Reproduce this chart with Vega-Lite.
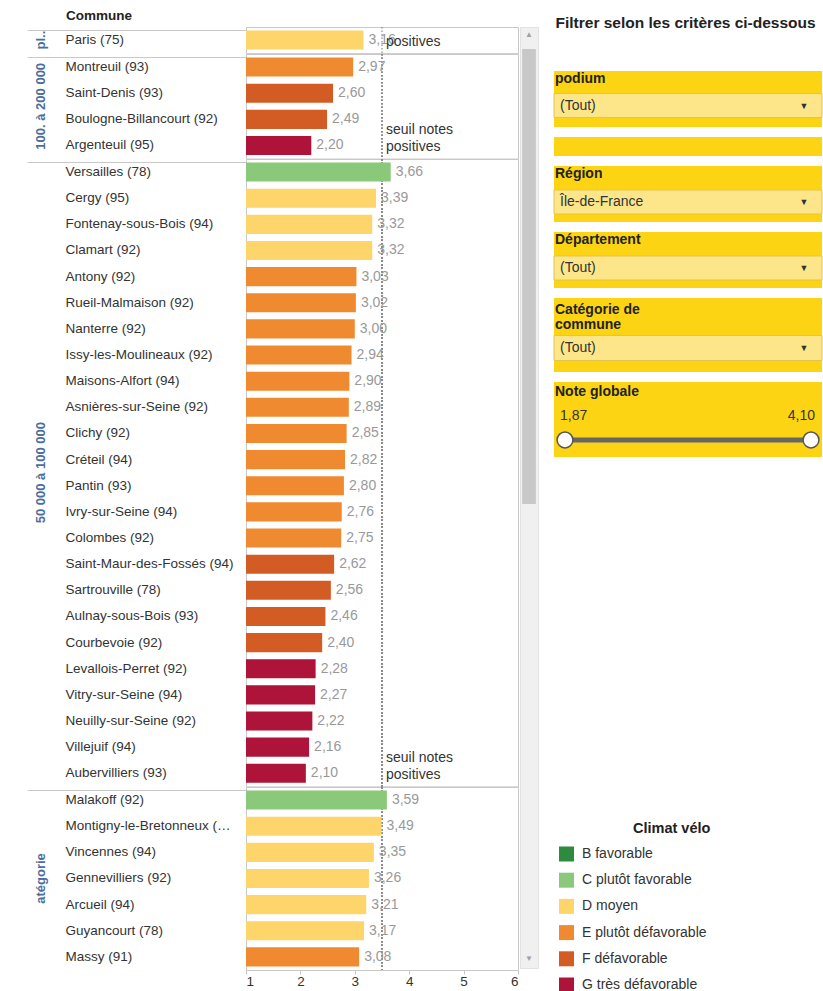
{
  "$schema": "https://vega.github.io/schema/vega-lite/v6.json",
  "padding": {"left": 26, "top": 9, "right": 0, "bottom": 0},
  "background": "white",
  "config": {
    "font": "Liberation Sans",
    "view": {"stroke": "#c8c8c8"},
    "locale": {"number": {"decimal": ",", "thousands": " ", "grouping": [3], "currency": ["", " €"]}}
  },
  "spacing": 14,
  "hconcat": [
    {
      "spacing": 0,
      "hconcat": [
        {
          "title": {"text": "Commune", "anchor": "start", "fontSize": 13.5, "fontWeight": "bold", "color": "#222", "dx": 40, "offset": 3},
          "data": {"values": [
            {"commune": "Paris (75)", "categorie": "plus de 200 000", "note": 3.16, "climat": "D moyen", "fin": true},
            {"commune": "Montreuil (93)", "categorie": "100 000 à 200 000", "note": 2.97, "climat": "E plutôt défavorable"},
            {"commune": "Saint-Denis (93)", "categorie": "100 000 à 200 000", "note": 2.60, "climat": "F défavorable"},
            {"commune": "Boulogne-Billancourt (92)", "categorie": "100 000 à 200 000", "note": 2.49, "climat": "F défavorable"},
            {"commune": "Argenteuil (95)", "categorie": "100 000 à 200 000", "note": 2.20, "climat": "G très défavorable", "fin": true},
            {"commune": "Versailles (78)", "categorie": "50 000 à 100 000", "note": 3.66, "climat": "C plutôt favorable"},
            {"commune": "Cergy (95)", "categorie": "50 000 à 100 000", "note": 3.39, "climat": "D moyen"},
            {"commune": "Fontenay-sous-Bois (94)", "categorie": "50 000 à 100 000", "note": 3.32, "climat": "D moyen"},
            {"commune": "Clamart (92)", "categorie": "50 000 à 100 000", "note": 3.32, "climat": "D moyen"},
            {"commune": "Antony (92)", "categorie": "50 000 à 100 000", "note": 3.03, "climat": "E plutôt défavorable"},
            {"commune": "Rueil-Malmaison (92)", "categorie": "50 000 à 100 000", "note": 3.02, "climat": "E plutôt défavorable"},
            {"commune": "Nanterre (92)", "categorie": "50 000 à 100 000", "note": 3.00, "climat": "E plutôt défavorable"},
            {"commune": "Issy-les-Moulineaux (92)", "categorie": "50 000 à 100 000", "note": 2.94, "climat": "E plutôt défavorable"},
            {"commune": "Maisons-Alfort (94)", "categorie": "50 000 à 100 000", "note": 2.90, "climat": "E plutôt défavorable"},
            {"commune": "Asnières-sur-Seine (92)", "categorie": "50 000 à 100 000", "note": 2.89, "climat": "E plutôt défavorable"},
            {"commune": "Clichy (92)", "categorie": "50 000 à 100 000", "note": 2.85, "climat": "E plutôt défavorable"},
            {"commune": "Créteil (94)", "categorie": "50 000 à 100 000", "note": 2.82, "climat": "E plutôt défavorable"},
            {"commune": "Pantin (93)", "categorie": "50 000 à 100 000", "note": 2.80, "climat": "E plutôt défavorable"},
            {"commune": "Ivry-sur-Seine (94)", "categorie": "50 000 à 100 000", "note": 2.76, "climat": "E plutôt défavorable"},
            {"commune": "Colombes (92)", "categorie": "50 000 à 100 000", "note": 2.75, "climat": "E plutôt défavorable"},
            {"commune": "Saint-Maur-des-Fossés (94)", "categorie": "50 000 à 100 000", "note": 2.62, "climat": "F défavorable"},
            {"commune": "Sartrouville (78)", "categorie": "50 000 à 100 000", "note": 2.56, "climat": "F défavorable"},
            {"commune": "Aulnay-sous-Bois (93)", "categorie": "50 000 à 100 000", "note": 2.46, "climat": "F défavorable"},
            {"commune": "Courbevoie (92)", "categorie": "50 000 à 100 000", "note": 2.40, "climat": "F défavorable"},
            {"commune": "Levallois-Perret (92)", "categorie": "50 000 à 100 000", "note": 2.28, "climat": "G très défavorable"},
            {"commune": "Vitry-sur-Seine (94)", "categorie": "50 000 à 100 000", "note": 2.27, "climat": "G très défavorable"},
            {"commune": "Neuilly-sur-Seine (92)", "categorie": "50 000 à 100 000", "note": 2.22, "climat": "G très défavorable"},
            {"commune": "Villejuif (94)", "categorie": "50 000 à 100 000", "note": 2.16, "climat": "G très défavorable"},
            {"commune": "Aubervilliers (93)", "categorie": "50 000 à 100 000", "note": 2.10, "climat": "G très défavorable", "fin": true},
            {"commune": "Malakoff (92)", "categorie": "20 000 à 50 000", "note": 3.59, "climat": "C plutôt favorable"},
            {"commune": "Montigny-le-Bretonneux (78)", "categorie": "20 000 à 50 000", "note": 3.49, "climat": "D moyen"},
            {"commune": "Vincennes (94)", "categorie": "20 000 à 50 000", "note": 3.35, "climat": "D moyen"},
            {"commune": "Gennevilliers (92)", "categorie": "20 000 à 50 000", "note": 3.26, "climat": "D moyen"},
            {"commune": "Arcueil (94)", "categorie": "20 000 à 50 000", "note": 3.21, "climat": "D moyen"},
            {"commune": "Guyancourt (78)", "categorie": "20 000 à 50 000", "note": 3.17, "climat": "D moyen"},
            {"commune": "Massy (91)", "categorie": "20 000 à 50 000", "note": 3.08, "climat": "E plutôt défavorable"}
          ]},
          "facet": {
            "row": {
              "field": "categorie", "type": "nominal",
              "sort": ["plus de 200 000", "100 000 à 200 000", "50 000 à 100 000", "20 000 à 50 000"],
              "title": null,
              "header": {
                "labelAngle": -90, "labelFontSize": 13, "labelFontWeight": "bold", "labelColor": "#4b6e9e", "labelPadding": 192,
                "labelExpr": "datum.value == 'plus de 200 000' ? 'pl..' : datum.value == '100 000 à 200 000' ? '100. à 200 000' : datum.value == '20 000 à 50 000' ? 'atégorie' : datum.value"
              }
            }
          },
          "spacing": {"row": 0},
          "bounds": "flush",
          "resolve": {"scale": {"y": "independent"}},
          "spec": {
            "width": 272,
            "height": {"step": 26.14},
            "layer": [
              {
                "mark": {"type": "rule", "strokeDash": [1.5, 2], "strokeWidth": 1.2, "color": "#8a8a8a"},
                "encoding": {"x": {"datum": 3.5, "type": "quantitative"}}
              },
              {
                "mark": {"type": "bar"},
                "encoding": {
                  "y": {"field": "commune", "type": "nominal", "sort": null, "scale": {"paddingInner": 0.27, "paddingOuter": 0.135},
                    "axis": {"title": null, "domain": false, "bandPosition": 0, "tickSize": 219, "tickWidth": 1,
                      "tickColor": {"condition": {"test": "datum.index == 0", "value": "#c8c8c8"}, "value": "transparent"},
                      "labelAlign": "left", "labelPadding": -38, "labelFontSize": 13.5, "labelColor": "#333", "labelLimit": 169}},
                  "x": {"field": "note", "type": "quantitative", "scale": {"domain": [1, 6], "nice": false, "zero": false},
                    "axis": {"title": null, "values": [1, 2, 3, 4, 5, 6], "format": "d", "grid": false, "domain": false, "tickSize": 4, "tickColor": "#c8c8c8", "labelFontSize": 13.5, "labelColor": "#333", "labelPadding": 0}},
                  "x2": {"datum": 1},
                  "color": {"field": "climat", "type": "nominal",
                    "scale": {"domain": ["B favorable", "C plutôt favorable", "D moyen", "E plutôt défavorable", "F défavorable", "G très défavorable"],
                      "range": ["#2d8a3e", "#8bc97a", "#fdd56b", "#f08a30", "#d35c25", "#ae1439"]},
                    "legend": {"title": "Climat vélo", "orient": "none", "legendX": 313, "legendY": 795, "symbolType": "square", "symbolSize": 225, "symbolStrokeWidth": 0, "symbolOpacity": 1,
                      "labelFontSize": 14, "labelColor": "#333", "titleFontSize": 14.5, "titleColor": "#222", "titleFontWeight": "bold", "rowPadding": 11.2, "labelOffset": 8, "titleAnchor": "middle", "titleAlign": "left", "titlePadding": 10}}
                }
              },
              {
                "mark": {"type": "text", "align": "left", "baseline": "middle", "dx": 5, "fontSize": 14, "color": "#999"},
                "encoding": {
                  "y": {"field": "commune", "type": "nominal", "sort": null, "scale": {"paddingInner": 0.27, "paddingOuter": 0.135},
                    "axis": {"title": null, "domain": false, "bandPosition": 0, "tickSize": 219, "tickWidth": 1,
                      "tickColor": {"condition": {"test": "datum.index == 0", "value": "#c8c8c8"}, "value": "transparent"},
                      "labelAlign": "left", "labelPadding": -38, "labelFontSize": 13.5, "labelColor": "#333", "labelLimit": 169}},
                  "x": {"field": "note", "type": "quantitative"},
                  "text": {"field": "note", "type": "quantitative", "format": ".2f"}
                }
              },
              {
                "mark": {"type": "text", "align": "left", "baseline": "middle", "dx": 4, "dy": -15.5, "lineHeight": 17.5, "fontSize": 14, "color": "#333", "clip": true},
                "encoding": {
                  "y": {"field": "commune", "type": "nominal", "sort": null, "scale": {"paddingInner": 0.27, "paddingOuter": 0.135},
                    "axis": {"title": null, "domain": false, "bandPosition": 0, "tickSize": 219, "tickWidth": 1,
                      "tickColor": {"condition": {"test": "datum.index == 0", "value": "#c8c8c8"}, "value": "transparent"},
                      "labelAlign": "left", "labelPadding": -38, "labelFontSize": 13.5, "labelColor": "#333", "labelLimit": 169}},
                  "x": {"datum": 3.5, "type": "quantitative"},
                  "text": {"condition": [
                    {"test": "datum.fin && datum.categorie == 'plus de 200 000'", "value": ["", "positives"]},
                    {"test": "datum.fin", "value": ["seuil notes", "positives"]}
                  ], "value": ""}
                }
              }
            ]
          }
        },
        {
          "width": 18, "height": 941,
          "view": {"fill": "#f0f0f0", "stroke": "#e2e2e2"},
          "data": {"values": [{"element": "ascenseur"}]},
          "layer": [
            {"mark": {"type": "bar", "color": "#c8c8c8"},
             "encoding": {"x": {"datum": 0.12, "type": "quantitative", "scale": {"domain": [0, 1]}, "axis": null}, "x2": {"datum": 0.88},
               "y": {"datum": 0.0234, "type": "quantitative", "scale": {"domain": [0, 1], "reverse": true}, "axis": null}, "y2": {"datum": 0.507}}},
            {"mark": {"type": "text", "fontSize": 8, "color": "#a0a0a0", "baseline": "middle"},
             "encoding": {"x": {"datum": 0.5, "type": "quantitative"}, "y": {"datum": 0.008, "type": "quantitative"}, "text": {"value": "▲"}}},
            {"mark": {"type": "text", "fontSize": 8, "color": "#a0a0a0", "baseline": "middle"},
             "encoding": {"x": {"datum": 0.5, "type": "quantitative"}, "y": {"datum": 0.99, "type": "quantitative"}, "text": {"value": "▼"}}}
          ]
        }
      ]
    },
    {
      "title": {"text": "Filtrer selon les critères ci-dessous", "anchor": "start", "fontSize": 15.5, "fontWeight": "bold", "color": "#222", "offset": -4, "dx": 2},
      "spacing": 10,
      "vconcat": [
        {
          "width": 268, "height": 34,
          "view": {"fill": null, "stroke": null},
          "data": {"values": [{"vide": ""}]},
          "mark": {"type": "text"},
          "encoding": {"text": {"field": "vide"}}
        },
        {
          "width": 268, "height": 56,
          "view": {"fill": "#fcd413", "stroke": null},
          "data": {"values": [{"filtre": "podium", "valeur": "(Tout)"}]},
          "layer": [
            {"mark": {"type": "bar", "height": 24, "fill": "#fde68a", "stroke": "#e3c44c", "strokeWidth": 1},
             "encoding": {"x": {"datum": 0, "type": "quantitative", "scale": {"domain": [0, 1]}, "axis": null}, "x2": {"datum": 1},
               "y": {"datum": "liste", "type": "nominal", "scale": {"type": "point", "domain": ["titre", "liste"], "padding": 0.5566, "align": 0.2712}, "axis": null}}},
            {"mark": {"type": "text", "align": "left", "baseline": "middle", "dx": 1, "fontSize": 14, "fontWeight": "bold", "color": "#222"},
             "encoding": {"x": {"datum": 0, "type": "quantitative"}, "y": {"datum": "titre", "type": "nominal"}, "text": {"field": "filtre"}}},
            {"mark": {"type": "text", "align": "left", "baseline": "middle", "dx": 6, "fontSize": 14, "color": "#333"},
             "encoding": {"x": {"datum": 0, "type": "quantitative"}, "y": {"datum": "liste", "type": "nominal"}, "text": {"field": "valeur"}}},
            {"mark": {"type": "text", "align": "center", "baseline": "middle", "dx": -18, "fontSize": 9, "color": "#333"},
             "encoding": {"x": {"datum": 1, "type": "quantitative"}, "y": {"datum": "liste", "type": "nominal"}, "text": {"value": "▼"}}}
          ]
        },
        {
          "width": 268, "height": 19,
          "view": {"fill": "#fcd413", "stroke": null},
          "data": {"values": [{"filtre": ""}]},
          "mark": {"type": "text"},
          "encoding": {"text": {"field": "filtre"}}
        },
        {
          "width": 268, "height": 56,
          "view": {"fill": "#fcd413", "stroke": null},
          "data": {"values": [{"filtre": "Région", "valeur": "Île-de-France"}]},
          "layer": [
            {"mark": {"type": "bar", "height": 24, "fill": "#fde68a", "stroke": "#e3c44c", "strokeWidth": 1},
             "encoding": {"x": {"datum": 0, "type": "quantitative", "scale": {"domain": [0, 1]}, "axis": null}, "x2": {"datum": 1},
               "y": {"datum": "liste", "type": "nominal", "scale": {"type": "point", "domain": ["titre", "liste"], "padding": 0.5, "align": 0.2857}, "axis": null}}},
            {"mark": {"type": "text", "align": "left", "baseline": "middle", "dx": 1, "fontSize": 14, "fontWeight": "bold", "color": "#222"},
             "encoding": {"x": {"datum": 0, "type": "quantitative"}, "y": {"datum": "titre", "type": "nominal"}, "text": {"field": "filtre"}}},
            {"mark": {"type": "text", "align": "left", "baseline": "middle", "dx": 6, "fontSize": 14, "color": "#333"},
             "encoding": {"x": {"datum": 0, "type": "quantitative"}, "y": {"datum": "liste", "type": "nominal"}, "text": {"field": "valeur"}}},
            {"mark": {"type": "text", "align": "center", "baseline": "middle", "dx": -18, "fontSize": 9, "color": "#333"},
             "encoding": {"x": {"datum": 1, "type": "quantitative"}, "y": {"datum": "liste", "type": "nominal"}, "text": {"value": "▼"}}}
          ]
        },
        {
          "width": 268, "height": 56,
          "view": {"fill": "#fcd413", "stroke": null},
          "data": {"values": [{"filtre": "Département", "valeur": "(Tout)"}]},
          "layer": [
            {"mark": {"type": "bar", "height": 24, "fill": "#fde68a", "stroke": "#e3c44c", "strokeWidth": 1},
             "encoding": {"x": {"datum": 0, "type": "quantitative", "scale": {"domain": [0, 1]}, "axis": null}, "x2": {"datum": 1},
               "y": {"datum": "liste", "type": "nominal", "scale": {"type": "point", "domain": ["titre", "liste"], "padding": 0.5, "align": 0.2857}, "axis": null}}},
            {"mark": {"type": "text", "align": "left", "baseline": "middle", "dx": 1, "fontSize": 14, "fontWeight": "bold", "color": "#222"},
             "encoding": {"x": {"datum": 0, "type": "quantitative"}, "y": {"datum": "titre", "type": "nominal"}, "text": {"field": "filtre"}}},
            {"mark": {"type": "text", "align": "left", "baseline": "middle", "dx": 6, "fontSize": 14, "color": "#333"},
             "encoding": {"x": {"datum": 0, "type": "quantitative"}, "y": {"datum": "liste", "type": "nominal"}, "text": {"field": "valeur"}}},
            {"mark": {"type": "text", "align": "center", "baseline": "middle", "dx": -18, "fontSize": 9, "color": "#333"},
             "encoding": {"x": {"datum": 1, "type": "quantitative"}, "y": {"datum": "liste", "type": "nominal"}, "text": {"value": "▼"}}}
          ]
        },
        {
          "width": 268, "height": 74,
          "view": {"fill": "#fcd413", "stroke": null},
          "data": {"values": [{"filtre": "Catégorie de\ncommune", "valeur": "(Tout)"}]},
          "layer": [
            {"mark": {"type": "bar", "height": 25, "fill": "#fde68a", "stroke": "#e3c44c", "strokeWidth": 1},
             "encoding": {"x": {"datum": 0, "type": "quantitative", "scale": {"domain": [0, 1]}, "axis": null}, "x2": {"datum": 1},
               "y": {"datum": "liste", "type": "nominal", "scale": {"type": "point", "domain": ["titre", "liste"], "padding": 0.638, "align": 0.4217}, "axis": null}}},
            {"mark": {"type": "text", "align": "left", "baseline": "middle", "dx": 1, "dy": -5, "fontSize": 14, "fontWeight": "bold", "color": "#222", "lineBreak": "\n", "lineHeight": 15},
             "encoding": {"x": {"datum": 0, "type": "quantitative"}, "y": {"datum": "titre", "type": "nominal"}, "text": {"field": "filtre"}}},
            {"mark": {"type": "text", "align": "left", "baseline": "middle", "dx": 6, "fontSize": 14, "color": "#333"},
             "encoding": {"x": {"datum": 0, "type": "quantitative"}, "y": {"datum": "liste", "type": "nominal"}, "text": {"field": "valeur"}}},
            {"mark": {"type": "text", "align": "center", "baseline": "middle", "dx": -18, "fontSize": 9, "color": "#333"},
             "encoding": {"x": {"datum": 1, "type": "quantitative"}, "y": {"datum": "liste", "type": "nominal"}, "text": {"value": "▼"}}}
          ]
        },
        {
          "width": 268, "height": 75,
          "view": {"fill": "#fcd413", "stroke": null},
          "data": {"values": [{"filtre": "Note globale", "min": 1.87, "max": 4.10}]},
          "layer": [
            {"mark": {"type": "text", "align": "left", "baseline": "middle", "dx": -10, "fontSize": 14, "fontWeight": "bold", "color": "#222"},
             "encoding": {"x": {"field": "min", "type": "quantitative", "scale": {"domain": [1.87, 4.10], "padding": 11, "nice": false, "zero": false}, "axis": null},
               "y": {"datum": "titre", "type": "nominal", "scale": {"type": "point", "domain": ["titre", "valeurs", "curseur"], "padding": 0.5625, "align": 0.37}, "axis": null},
               "text": {"field": "filtre"}}},
            {"mark": {"type": "text", "align": "left", "baseline": "middle", "dx": -5, "fontSize": 14, "color": "#333"},
             "encoding": {"x": {"field": "min", "type": "quantitative"}, "y": {"datum": "valeurs", "type": "nominal"}, "text": {"field": "min", "type": "quantitative", "format": ".2f"}}},
            {"mark": {"type": "text", "align": "right", "baseline": "middle", "dx": 4, "fontSize": 14, "color": "#333"},
             "encoding": {"x": {"field": "max", "type": "quantitative"}, "y": {"datum": "valeurs", "type": "nominal"}, "text": {"field": "max", "type": "quantitative", "format": ".2f"}}},
            {"mark": {"type": "rule", "strokeWidth": 5, "color": "#666"},
             "encoding": {"x": {"field": "min", "type": "quantitative"}, "x2": {"field": "max"}, "y": {"datum": "curseur", "type": "nominal"}}},
            {"mark": {"type": "point", "shape": "circle", "filled": true, "fill": "white", "stroke": "#555", "strokeWidth": 1.5, "size": 250, "opacity": 1},
             "encoding": {"x": {"field": "min", "type": "quantitative"}, "y": {"datum": "curseur", "type": "nominal"}}},
            {"mark": {"type": "point", "shape": "circle", "filled": true, "fill": "white", "stroke": "#555", "strokeWidth": 1.5, "size": 250, "opacity": 1},
             "encoding": {"x": {"field": "max", "type": "quantitative"}, "y": {"datum": "curseur", "type": "nominal"}}}
          ]
        }
      ]
    }
  ]
}
